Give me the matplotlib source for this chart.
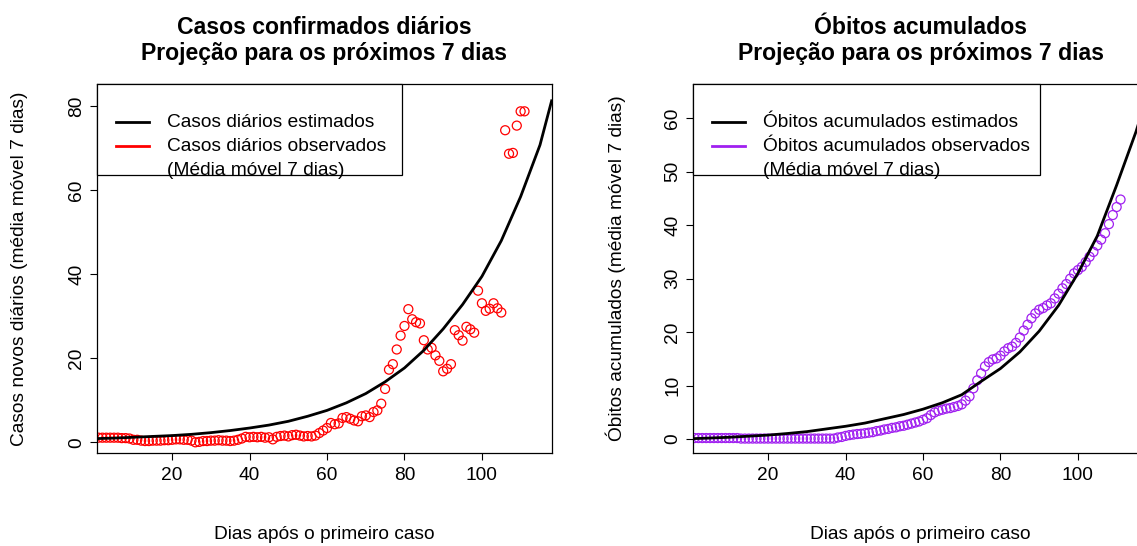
import matplotlib.pyplot as plt
from matplotlib.patches import Rectangle
from matplotlib.lines import Line2D

plt.rcParams["font.family"] = ["Liberation Sans", "DejaVu Sans"]

# ── Data ─────────────────────────────────────────────────────────────────────
# observed 7-day moving average, one value per day since the first case
casos_obs = [
    1.1, 1.1, 1.1, 1.1, 1.1, 1.1, 1.0, 1.0, 0.9,
    0.6, 0.6, 0.4, 0.3, 0.3, 0.4, 0.4, 0.4, 0.5, 0.5,
    0.6, 0.7, 0.7, 0.6, 0.6, 0.4, 0.0, 0.1, 0.3, 0.3,
    0.4, 0.4, 0.5, 0.4, 0.4, 0.3, 0.4, 0.6, 0.9, 1.3,
    1.2, 1.3, 1.2, 1.3, 1.1, 1.2, 0.7, 1.3, 1.5, 1.6,
    1.4, 1.7, 1.8, 1.6, 1.4, 1.5, 1.4, 1.6, 2.2, 2.8,
    3.4, 4.6, 4.3, 4.5, 5.8, 6.0, 5.6, 5.2, 5.0, 6.2,
    6.4, 6.0, 7.2, 7.6, 9.2, 12.7, 17.3, 18.6, 22.1, 25.4,
    27.7, 31.7, 29.3, 28.6, 28.3, 24.3, 22.1, 22.5, 20.7, 19.4,
    16.9, 17.5, 18.6, 26.7, 25.5, 24.2, 27.5, 26.9, 26.1, 36.1,
    33.1, 31.3, 31.8, 33.1, 31.9, 30.9, 74.3, 68.7, 68.9, 75.4,
    78.8, 78.8,
]
obitos_obs = [
    0.2, 0.2, 0.2, 0.2, 0.2, 0.2, 0.2, 0.2, 0.2, 0.2, 0.2, 0.2,
    0.1, 0.1, 0.1, 0.1, 0.1, 0.1, 0.1, 0.1, 0.1, 0.1, 0.1, 0.1, 0.1,
    0.1, 0.1, 0.1, 0.1, 0.1, 0.1, 0.1, 0.1, 0.1, 0.1, 0.1, 0.1,
    0.3, 0.4, 0.6, 0.75, 0.85, 0.95, 1.0, 1.1, 1.2, 1.3, 1.5, 1.6,
    1.8, 1.9, 2.1, 2.2, 2.4, 2.5, 2.7, 2.9, 3.1, 3.3,
    3.6, 3.9, 4.5, 5.0, 5.3, 5.5, 5.7, 5.8, 6.0, 6.2,
    6.5, 7.2, 8.0, 9.5, 11.0, 12.3, 13.6, 14.4, 14.9, 15.1,
    15.6, 16.4, 17.0, 17.3, 18.0, 19.0, 20.3, 21.4, 22.6, 23.5,
    24.2, 24.5, 25.0, 25.4, 26.3, 27.2, 28.2, 29.0, 30.0, 31.0,
    31.6, 32.2, 33.1, 34.1, 35.0, 36.2, 37.3, 38.5, 40.2, 41.9,
    43.4, 44.8,
]
dias_obs = list(range(1, len(casos_obs) + 1))

# fitted model, including the 7-day projection
dias_modelo = [1, 5, 10, 15, 20, 25, 30, 35, 40, 45, 50, 55, 60,
               65, 70, 75, 80, 85, 90, 95, 100, 105, 110, 115, 118]
casos_modelo = [0.9, 1.0, 1.2, 1.4, 1.6, 1.9, 2.3, 2.8, 3.4, 4.1, 5.0, 6.2, 7.6,
                9.4, 11.6, 14.4, 17.7, 21.9, 27.0, 32.8, 39.5, 48.0, 58.5, 70.8, 81.3]
obitos_modelo = [0.1, 0.2, 0.35, 0.55, 0.75, 1.05, 1.4, 1.9, 2.4, 3.0, 3.8, 4.6, 5.6,
                 6.8, 8.3, 10.8, 13.2, 16.3, 20.2, 25.0, 31.0, 38.0, 47.5, 57.5, 64.5]

FS = 13.8
XLIM = (0.6, 118.1)


def draw_panel(ax, obs, modelo, cor, titulo, ylab, leg_labels, leg_width, ylim, yticks):
    ax.plot(dias_modelo, modelo, color="black", lw=2.0, zorder=3)
    ax.scatter(dias_obs, obs, s=42, facecolors="none", edgecolors=cor,
               linewidths=0.9, zorder=2)

    ax.set_xlim(*XLIM)
    ax.set_ylim(*ylim)
    ax.set_xticks([20, 40, 60, 80, 100])
    ax.set_yticks(yticks, labels=[str(t) for t in yticks],
                  rotation=90, va="center", ha="center")
    ax.tick_params(axis="both", direction="out", length=5, width=0.8,
                   labelsize=FS)
    ax.tick_params(axis="x", pad=5)
    ax.tick_params(axis="y", pad=9.5)
    for sp in ax.spines.values():
        sp.set_linewidth(0.9)

    ax.text(0.5, 1.118, titulo, transform=ax.transAxes, ha="center",
            va="center", fontsize=16.6, fontweight="bold", linespacing=1.2)
    ax.set_xlabel("Dias após o primeiro caso", fontsize=FS, va="center")
    ax.xaxis.set_label_coords(0.5, -0.222)
    ax.set_ylabel(ylab, fontsize=FS, va="center")
    ax.yaxis.set_label_coords(-0.17, 0.5)

    # legend box in the top-left corner
    ax.add_patch(Rectangle((0, 0.7534), leg_width, 0.2466, transform=ax.transAxes,
                           facecolor="white", edgecolor="black", lw=0.9,
                           zorder=5, clip_on=False))
    for y, c in [(0.897, "black"), (0.832, cor)]:
        ax.add_line(Line2D([0.042, 0.115], [y, y], transform=ax.transAxes,
                           color=c, lw=2.0, zorder=6))
    for y, txt in zip([0.897, 0.832, 0.767], leg_labels):
        ax.text(0.153, y, txt, transform=ax.transAxes, ha="left", va="center",
                fontsize=FS, zorder=6)


fig = plt.figure(figsize=(11.37, 5.46), dpi=100)
ax1 = fig.add_axes([0.0853, 0.1703, 0.4002, 0.6758])
ax2 = fig.add_axes([0.6095, 0.1703, 0.4002, 0.6758])

draw_panel(ax1, casos_obs, casos_modelo, "#FF0000",
           "Casos confirmados diários\nProjeção para os próximos 7 dias",
           "Casos novos diários (média móvel 7 dias)",
           ["Casos diários estimados", "Casos diários observados",
            "(Média móvel 7 dias)"],
           0.670, (-2.55, 85.3), [0, 20, 40, 60, 80])

draw_panel(ax2, obitos_obs, obitos_modelo, "#A020F0",
           "Óbitos acumulados\nProjeção para os próximos 7 dias",
           "Óbitos acumulados (média móvel 7 dias)",
           ["Óbitos acumulados estimados", "Óbitos acumulados observados",
            "(Média móvel 7 dias)"],
           0.763, (-2.6, 66.4), [0, 10, 20, 30, 40, 50, 60])

fig.savefig("out.png", dpi=100)
